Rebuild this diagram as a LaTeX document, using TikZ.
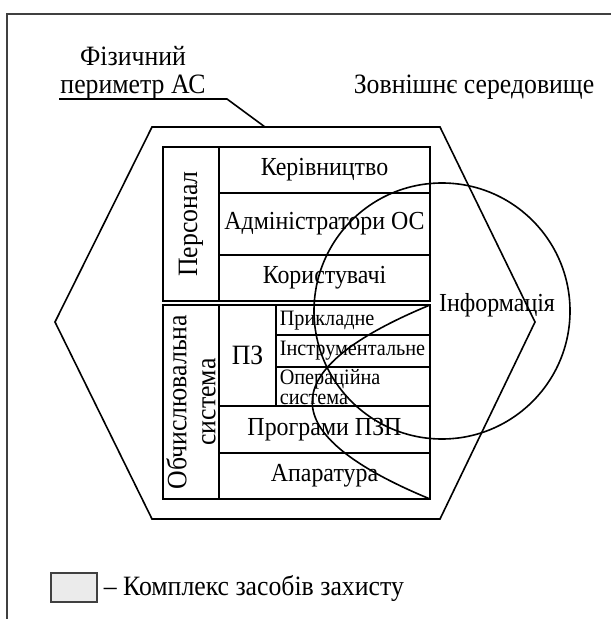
\documentclass[tikz,border=0pt]{standalone}
\usepackage{fontspec}
\setmainfont[FakeStretch=0.92]{Liberation Serif}
\usepackage{tikz}
\tikzstyle{lbl}=[inner sep=0pt, font=\fontsize{13}{14}\selectfont]
\tikzstyle{olbl}=[lbl, font=\fontsize{14}{14}\selectfont]
\tikzstyle{rlbl}=[lbl, rotate=90, align=center, font=\fontsize{14}{14.5}\selectfont]
\tikzstyle{slbl}=[inner sep=0pt, font=\fontsize{11}{10}\selectfont, align=left, anchor=west]
\tikzstyle{frame}=[line width=1.2pt, draw=black!75]

\begin{document}
\begin{tikzpicture}[x=0.5pt, y=-0.5pt, line width=0.8pt]
        \useasboundingbox (0,0) rectangle (611,619);
        \draw[frame] (7,619) -- (7,14) -- (611,14);
        \coordinate (H1) at (55,322);
        \coordinate (H2) at (152,127);
        \coordinate (H3) at (440,127);
        \coordinate (H4) at (535,322);
        \coordinate (H5) at (440,519);
        \coordinate (H6) at (152,519);
        \draw (H1) -- (H2) -- (H3) -- (H4) -- (H5) -- (H6) -- cycle;
        \node[olbl, align=center] (perim) at (133,73) {Фізичний\\периметр АС};
        \coordinate (L1) at (59,99);
        \coordinate (L2) at (227,99);
        \coordinate (L3) at (265,127);
        \draw (L1) -- (L2) -- (L3);
        \node[olbl] (zovn) at (474,87) {Зовнішнє середовище};
        % персонал
        \coordinate (P1) at (163,147);
        \coordinate (P2) at (430,301);
        \draw (P1) rectangle (P2);
        \draw (219,147) -- (219,301);
        \draw (219,193) -- (P2 |- 0,193);
        \draw (219,255) -- (P2 |- 0,255);
        \node[rlbl] (pers) at (191,224) {Персонал};
        \node[lbl] (kerivn) at (324.5,170) {Керівництво};
        \node[lbl] (admin) at (324.5,224) {Адміністратори ОС};
        \node[lbl] (korist) at (324.5,278) {Користувачі};
        % обчислювальна система
        \coordinate (S1) at (163,305);
        \coordinate (S2) at (430,499);
        \draw (S1) rectangle (S2);
        \draw (219,305) -- (219,499);
        \draw (276,305) -- (276,406);
        \draw (276,335) -- (S2 |- 0,335);
        \draw (276,367) -- (S2 |- 0,367);
        \draw (219,406) -- (S2 |- 0,406);
        \draw (219,453) -- (S2 |- 0,453);
        \node[rlbl] (obch) at (191,402) {Обчислювальна\\система};
        \node[olbl] (pz) at (247.5,355) {ПЗ};
        \node[slbl] (prykl) at (279,321) {Прикладне};
        \node[slbl] (instr) at (279,351) {Інструментальне};
        \node[slbl] (oper) at (279,387) {Операційна\\система};
        \node[lbl] (pzp) at (324.5,430) {Програми ПЗП};
        \node[lbl] (apar) at (324.5,476) {Апаратура};
        % інформація
        \draw (442,311) circle[radius=128];
        \draw (S2 |- S1) .. controls (273,370) and (273,434) .. (S2);
        \node[lbl] (inform) at (497,305) {Інформація};
        % легенда
        \draw[frame, fill=black!8] (51,573) rectangle (97,602);
        \node[olbl, anchor=west] (legend) at (103,588) {-- Комплекс засобів захисту};
    \end{tikzpicture}
\end{document}
